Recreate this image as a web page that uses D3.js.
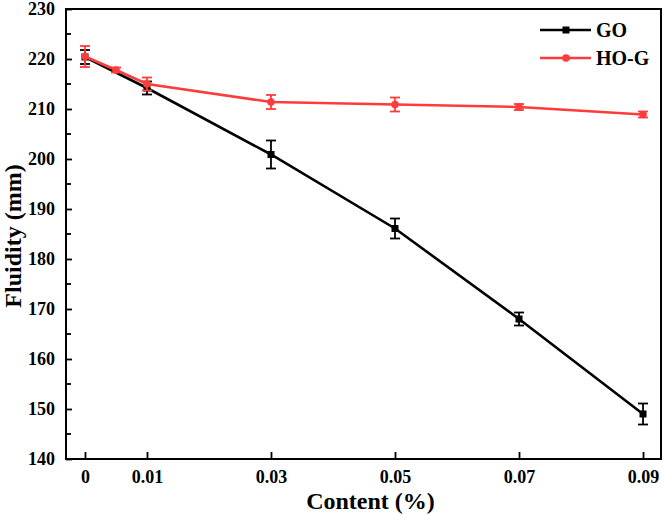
<!DOCTYPE html>
<html><head><meta charset="utf-8">
<script src="https://cdn.jsdelivr.net/npm/d3@7/dist/d3.min.js"></script>
<style>body{margin:0;background:#fff}svg{display:block}text{font-family:"Liberation Serif","Times New Roman",serif;font-weight:bold;fill:#000}</style>
</head><body>
<script>
// data
const goX = [0, 0.01, 0.03, 0.05, 0.07, 0.09];
const goY = [220.4, 214.2, 200.9, 186.1, 168.0, 149.0];
const goErr = [1.4, 1.3, 2.8, 2.0, 1.3, 2.1];
const hogX = [0, 0.005, 0.01, 0.03, 0.05, 0.07, 0.09];
const hogY = [220.5, 217.8, 215.0, 211.4, 210.9, 210.4, 208.9];
const hogErr = [2.1, 0.5, 1.3, 1.4, 1.4, 0.6, 0.6];
const xTicks = [0, 0.01, 0.03, 0.05, 0.07, 0.09];
const xTickLabels = ["0", "0.01", "0.03", "0.05", "0.07", "0.09"];
const yTicks = [140, 150, 160, 170, 180, 190, 200, 210, 220, 230];
const yMinor = [145, 155, 165, 175, 185, 195, 205, 215, 225];

const W = 664, H = 514;
const m = {l: 66, r: 3, t: 9, b: 55};
const svg = d3.select("body").append("svg").attr("width", W).attr("height", H);
const x = d3.scaleLinear().domain([-0.00306, 0.0929]).range([m.l, W - m.r]);
const y = d3.scaleLinear().domain([140, 230]).range([H - m.b, m.t]);

const black = "#000", red = "#ff3b3b";

function series(xs, ys, es, color, shape) {
  const g = svg.append("g");
  const pts = xs.map((d, i) => ({x: d, y: ys[i], e: es[i]}));
  g.append("path").datum(pts)
    .attr("d", d3.line().x(d => x(d.x)).y(d => y(d.y)))
    .attr("fill", "none").attr("stroke", color).attr("stroke-width", 2.6);
  const eb = g.selectAll(".eb").data(pts).enter().append("g");
  eb.append("line").attr("x1", d => x(d.x)).attr("x2", d => x(d.x))
    .attr("y1", d => y(d.y - d.e)).attr("y2", d => y(d.y + d.e))
    .attr("stroke", color).attr("stroke-width", 1.8);
  [-1, 1].forEach(s => {
    eb.append("line").attr("x1", d => x(d.x) - 5).attr("x2", d => x(d.x) + 5)
      .attr("y1", d => y(d.y + s * d.e)).attr("y2", d => y(d.y + s * d.e))
      .attr("stroke", color).attr("stroke-width", 1.8);
  });
  if (shape === "square") {
    g.selectAll(".mk").data(pts).enter().append("rect")
      .attr("x", d => x(d.x) - 3.5).attr("y", d => y(d.y) - 3.5)
      .attr("width", 7).attr("height", 7).attr("fill", color);
  } else {
    g.selectAll(".mk").data(pts).enter().append("circle")
      .attr("cx", d => x(d.x)).attr("cy", d => y(d.y)).attr("r", 3.8).attr("fill", color);
  }
}
series(goX, goY, goErr, black, "square");
series(hogX, hogY, hogErr, red, "circle");

// axes
const xAxis = d3.axisBottom(x).tickValues(xTicks).tickFormat((d, i) => xTickLabels[i]).tickSizeInner(-7).tickSizeOuter(0).tickPadding(11);
const gx = svg.append("g").attr("transform", `translate(0,${H - m.b})`).call(xAxis);
const yAxis = d3.axisLeft(y).tickValues(yTicks).tickFormat(d3.format("d")).tickSizeInner(-6).tickSizeOuter(0).tickPadding(11);
const gy = svg.append("g").attr("transform", `translate(${m.l},0)`).call(yAxis);
svg.append("g").selectAll("line").data(yMinor).enter().append("line")
  .attr("x1", m.l).attr("x2", m.l + 5).attr("y1", d => y(d)).attr("y2", d => y(d))
  .attr("stroke", "#000").attr("stroke-width", 1.8);
[gx, gy].forEach(g => {
  g.select(".domain").remove();
  g.selectAll(".tick line").attr("stroke", "#000").attr("stroke-width", 1.8);
  g.selectAll(".tick text").attr("font-size", 18).attr("font-family", "Liberation Serif").attr("font-weight", "bold").attr("fill", "#000");
});
// frame
svg.append("rect").attr("x", m.l).attr("y", m.t).attr("width", W - m.r - m.l).attr("height", H - m.b - m.t)
  .attr("fill", "none").attr("stroke", "#000").attr("stroke-width", 2);

// titles
svg.append("text").attr("x", (m.l + W - m.r) / 2 + 7).attr("y", 509).attr("text-anchor", "middle")
  .attr("font-size", 24).text("Content (%)");
svg.append("text").attr("transform", `translate(21,${(m.t + H - m.b) / 2 + 2}) rotate(-90)`).attr("text-anchor", "middle")
  .attr("font-size", 24).text("Fluidity (mm)");

// legend
const leg = [{name: "GO", color: black, shape: "square"}, {name: "HO-G", color: red, shape: "circle"}];
leg.forEach((d, i) => {
  const ly = 30 + i * 28;
  svg.append("line").attr("x1", 540).attr("x2", 591).attr("y1", ly).attr("y2", ly)
    .attr("stroke", d.color).attr("stroke-width", 2.6);
  if (d.shape === "square") svg.append("rect").attr("x", 562.5).attr("y", ly - 3.5).attr("width", 7).attr("height", 7).attr("fill", d.color);
  else svg.append("circle").attr("cx", 566).attr("cy", ly).attr("r", 3.8).attr("fill", d.color);
  svg.append("text").attr("x", 596).attr("y", ly + 7).attr("font-size", 20).text(d.name);
});
</script>
</body></html>
